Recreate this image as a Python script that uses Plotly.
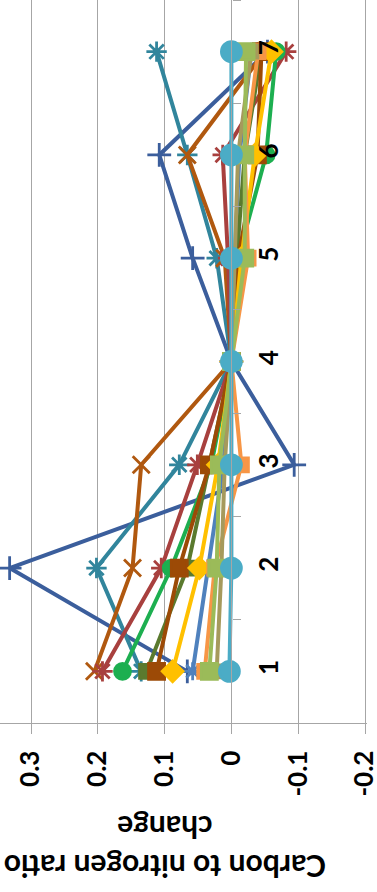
import plotly.graph_objects as go

# ---- data ----
categories = ["1", "2", "3", "4", "5", "6", "7"]
value_ticks = [-0.2, -0.1, 0, 0.1, 0.2, 0.3]
value_tick_labels = ["-0.2", "-0.1", "0", "0.1", "0.2", "0.3"]

s_darkblue = [0.066, 0.332, -0.094, 0, 0.058, 0.108, -0.054]
s_blue = [0.058, 0.035, 0.012, 0, -0.005, -0.012, -0.030]
s_teal = [0.135, 0.202, 0.078, 0, 0.022, 0.066, 0.112]
s_rust = [0.205, 0.148, 0.135, 0, 0.010, 0.066, -0.050]
s_red = [0.193, 0.105, 0.051, 0, 0.005, 0.013, -0.082]
s_green = [0.163, 0.090, 0.030, 0, -0.010, -0.052, -0.067]
s_darkgreen = [0.127, 0.066, 0.033, 0, -0.008, -0.020, -0.045]
s_brown = [0.112, 0.078, 0.033, 0, -0.010, -0.039, -0.045]
s_yellow = [0.088, 0.048, 0.020, 0, -0.015, -0.035, -0.060]
s_orange = [0.040, 0.025, -0.015, 0, -0.025, -0.020, -0.040]
s_khaki = [0.022, 0.015, 0.010, 0, -0.005, -0.010, -0.030]
s_olive = [0.033, 0.022, 0.018, 0, -0.020, -0.020, -0.022]
s_lightblue = [0.003, 0.0, 0.0, 0, 0.0, 0.0, 0.0]

series = [
    ("S1", s_darkblue, "#3B5E9C", "cross-thin-open", 17),
    ("S2", s_blue, "#4F81BD", "asterisk-open", 15),
    ("S3", s_teal, "#31859C", "asterisk-open", 17),
    ("S4", s_rust, "#B0580F", "x-thin-open", 17),
    ("S5", s_red, "#A8403E", "asterisk-open", 17),
    ("S6", s_green, "#1DAF50", "circle", 16),
    ("S7", s_darkgreen, "#5A7A2E", "square", 14),
    ("S8", s_brown, "#9C4A06", "square", 16),
    ("S9", s_yellow, "#FFC000", "diamond", 16),
    ("S10", s_orange, "#F79646", "square", 14),
    ("S11", s_khaki, "#A69A5C", "square", 13),
    ("S12", s_olive, "#9BBB59", "square", 16),
    ("S13", s_lightblue, "#4BACC6", "circle", 20),
]

fig = go.Figure()
for name, vals, color, sym, size in series:
    fig.add_trace(go.Scatter(
        x=vals, y=categories, mode="lines+markers", name=name,
        line=dict(color=color, width=4),
        marker=dict(symbol=sym, size=size, color=color,
                    line=dict(color=color, width=2.8)),
        showlegend=False,
    ))

x_lo, x_hi = -0.203, 0.3464
font_family = "Lato, 'Liberation Sans', Arial, sans-serif"

fig.update_layout(
    width=377, height=892,
    margin=dict(l=0, r=10, t=0, b=169, autoexpand=False),
    plot_bgcolor="white", paper_bgcolor="white",
    xaxis=dict(
        range=[x_hi, x_lo], tickvals=value_ticks, ticktext=value_tick_labels,
        automargin=False, ticklabeloverflow="allow",
        showgrid=True, gridcolor="#A6A6A6", gridwidth=1.3,
        zeroline=False, showline=True, linecolor="#A6A6A6", linewidth=1.3,
        ticks="outside", ticklen=10, tickcolor="#A6A6A6", tickwidth=1.3,
        tickangle=-90, ticklabelstandoff=6,
        tickfont=dict(family=font_family, size=26, color="black", weight="bold"),
    ),
    yaxis=dict(
        type="category", categoryorder="array", categoryarray=categories,
        range=[-0.5, 6.5], anchor="free", position=(x_hi - 0) / (x_hi - x_lo),
        automargin=False, ticklabeloverflow="allow",
        side="right", showgrid=False, zeroline=False,
        showline=True, linecolor="#A6A6A6", linewidth=1.3,
        ticks="outside", ticklen=8, tickcolor="#A6A6A6", tickwidth=1.3,
        tickson="boundaries", tickangle=-90, ticklabelstandoff=14,
        tickfont=dict(family=font_family, size=26, color="black", weight="bold"),
    ),
    annotations=[dict(
        text="Carbon to nitrogen ratio<br>change", textangle=180,
        xref="paper", yref="paper", x=165 / 367, y=(723 - 848) / 723,
        xanchor="center", yanchor="middle", showarrow=False,
        font=dict(family=font_family, size=30, color="black", weight="bold"),
    )],
)

fig.write_html(
    "out.html",
    config={"displayModeBar": False},
    post_script="document.body.style.margin='0px';document.body.style.overflow='hidden';",
)
